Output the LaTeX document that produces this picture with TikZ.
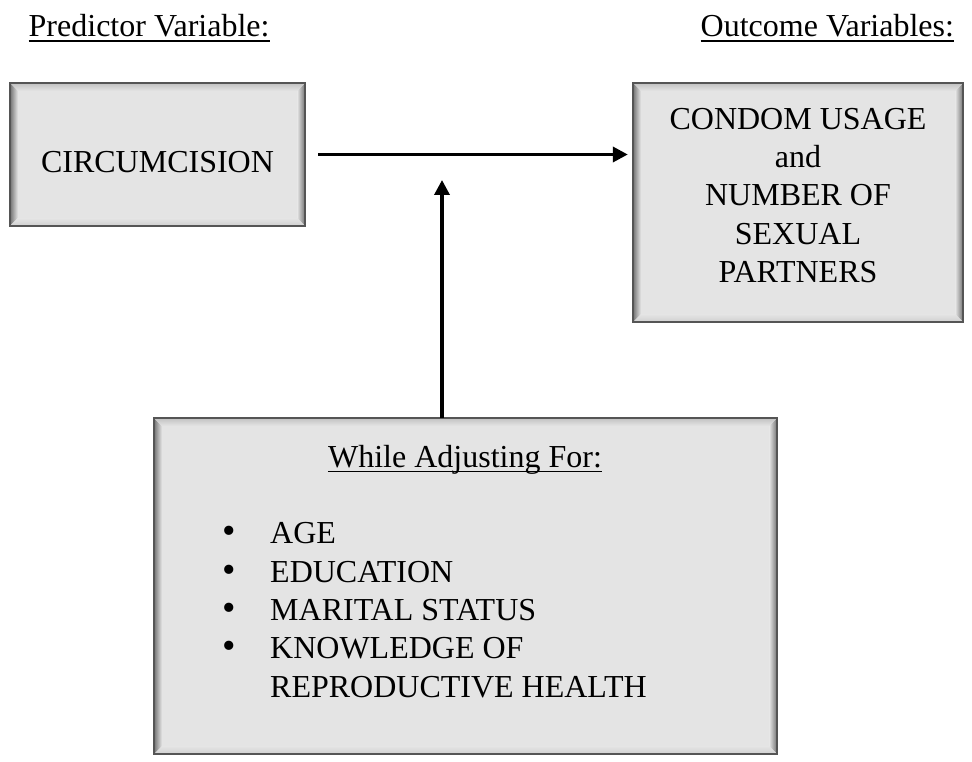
\documentclass[tikz,border=0pt]{standalone}
\usepackage{fontspec}
\setmainfont{Liberation Serif}
\usetikzlibrary{arrows.meta,calc}
\definecolor{boxfill}{HTML}{E4E4E4}
\definecolor{boxline}{HTML}{555555}
\definecolor{bevdark}{HTML}{707070}
\definecolor{bevtop}{HTML}{C0C0C0}
\definecolor{bevbot}{HTML}{CFCFCF}
\newcommand{\bevelbox}[1]{%
  \shade[left color=bevdark, right color=boxfill] (#1.north west) -- (#1.south west) -- ($(#1.south west)+(8,8)$) -- ($(#1.north west)+(8,-8)$) -- cycle;
  \shade[left color=boxfill, right color=bevdark] (#1.north east) -- (#1.south east) -- ($(#1.south east)+(-8,8)$) -- ($(#1.north east)+(-8,-8)$) -- cycle;
  \shade[top color=bevtop, bottom color=boxfill] (#1.north west) -- (#1.north east) -- ($(#1.north east)+(-8,-8)$) -- ($(#1.north west)+(8,-8)$) -- cycle;
  \shade[top color=boxfill, bottom color=bevbot] (#1.south west) -- (#1.south east) -- ($(#1.south east)+(-8,8)$) -- ($(#1.south west)+(8,8)$) -- cycle;
  \draw[boxline, line width=1.5pt] (#1.north west) rectangle (#1.south east);
}
\tikzset{
  box/.style={rectangle, fill=boxfill, draw=none, inner sep=0pt},
  txt/.style={inner sep=0pt, font=\fontsize{32}{38.3}\selectfont},
  arr/.style={line width=3.5pt, -{Triangle[length=15pt,width=15pt]}},
  uline/.style={line width=1.6pt}
}
\begin{document}
\begin{tikzpicture}[x=1pt,y=1pt]
\useasboundingbox (0,0) rectangle (972,-762);
% headings
\node[txt, anchor=base west] (pred) at (28.5,-36.5) {Predictor Variable:};
\draw[uline] ([yshift=-4.5pt]pred.base west) -- ([yshift=-4.5pt]pred.base east);
\node[txt, anchor=base west] (outv) at (700.5,-36.5) {Outcome Variables:};
\draw[uline] ([yshift=-4.5pt]outv.base west) -- ([yshift=-4.5pt]outv.base east);
% boxes
\node[box, minimum width=295pt, minimum height=143pt] (circ) at (157.5,-154.5) {};
\bevelbox{circ}
\node[txt, anchor=base] (circt) at (157.5,-173) {CIRCUMCISION};
\node[box, minimum width=330pt, minimum height=239pt] (outc) at (798,-202.5) {};
\bevelbox{outc}
\node[txt, anchor=north, align=center] (outt) at (798,-108) {CONDOM USAGE\\and\\NUMBER OF\\SEXUAL\\PARTNERS};
\node[box, minimum width=623pt, minimum height=336pt] (adj) at (465.5,-586) {};
\bevelbox{adj}
\node[txt, anchor=base] (adjh) at (465,-467) {While Adjusting For:};
\draw[uline] ([yshift=-4.5pt]adjh.base west) -- ([yshift=-4.5pt]adjh.base east);
\node[txt, anchor=north west, align=left] (adjl) at (222.5,-522.5) {%
\makebox[47.5pt][l]{\scalebox{1.2}{•}}AGE\\
\makebox[47.5pt][l]{\scalebox{1.2}{•}}EDUCATION\\
\makebox[47.5pt][l]{\scalebox{1.2}{•}}MARITAL STATUS\\
\makebox[47.5pt][l]{\scalebox{1.2}{•}}KNOWLEDGE OF\\
\hspace*{47.5pt}REPRODUCTIVE HEALTH};
% arrows
\draw[arr, shorten <=13pt, shorten >=5pt] (circ.east) -- (outc.west |- circ.east);
\coordinate (vt) at (442,-180);
\draw[arr] (adj.north -| vt) -- (vt);
\end{tikzpicture}
\end{document}
